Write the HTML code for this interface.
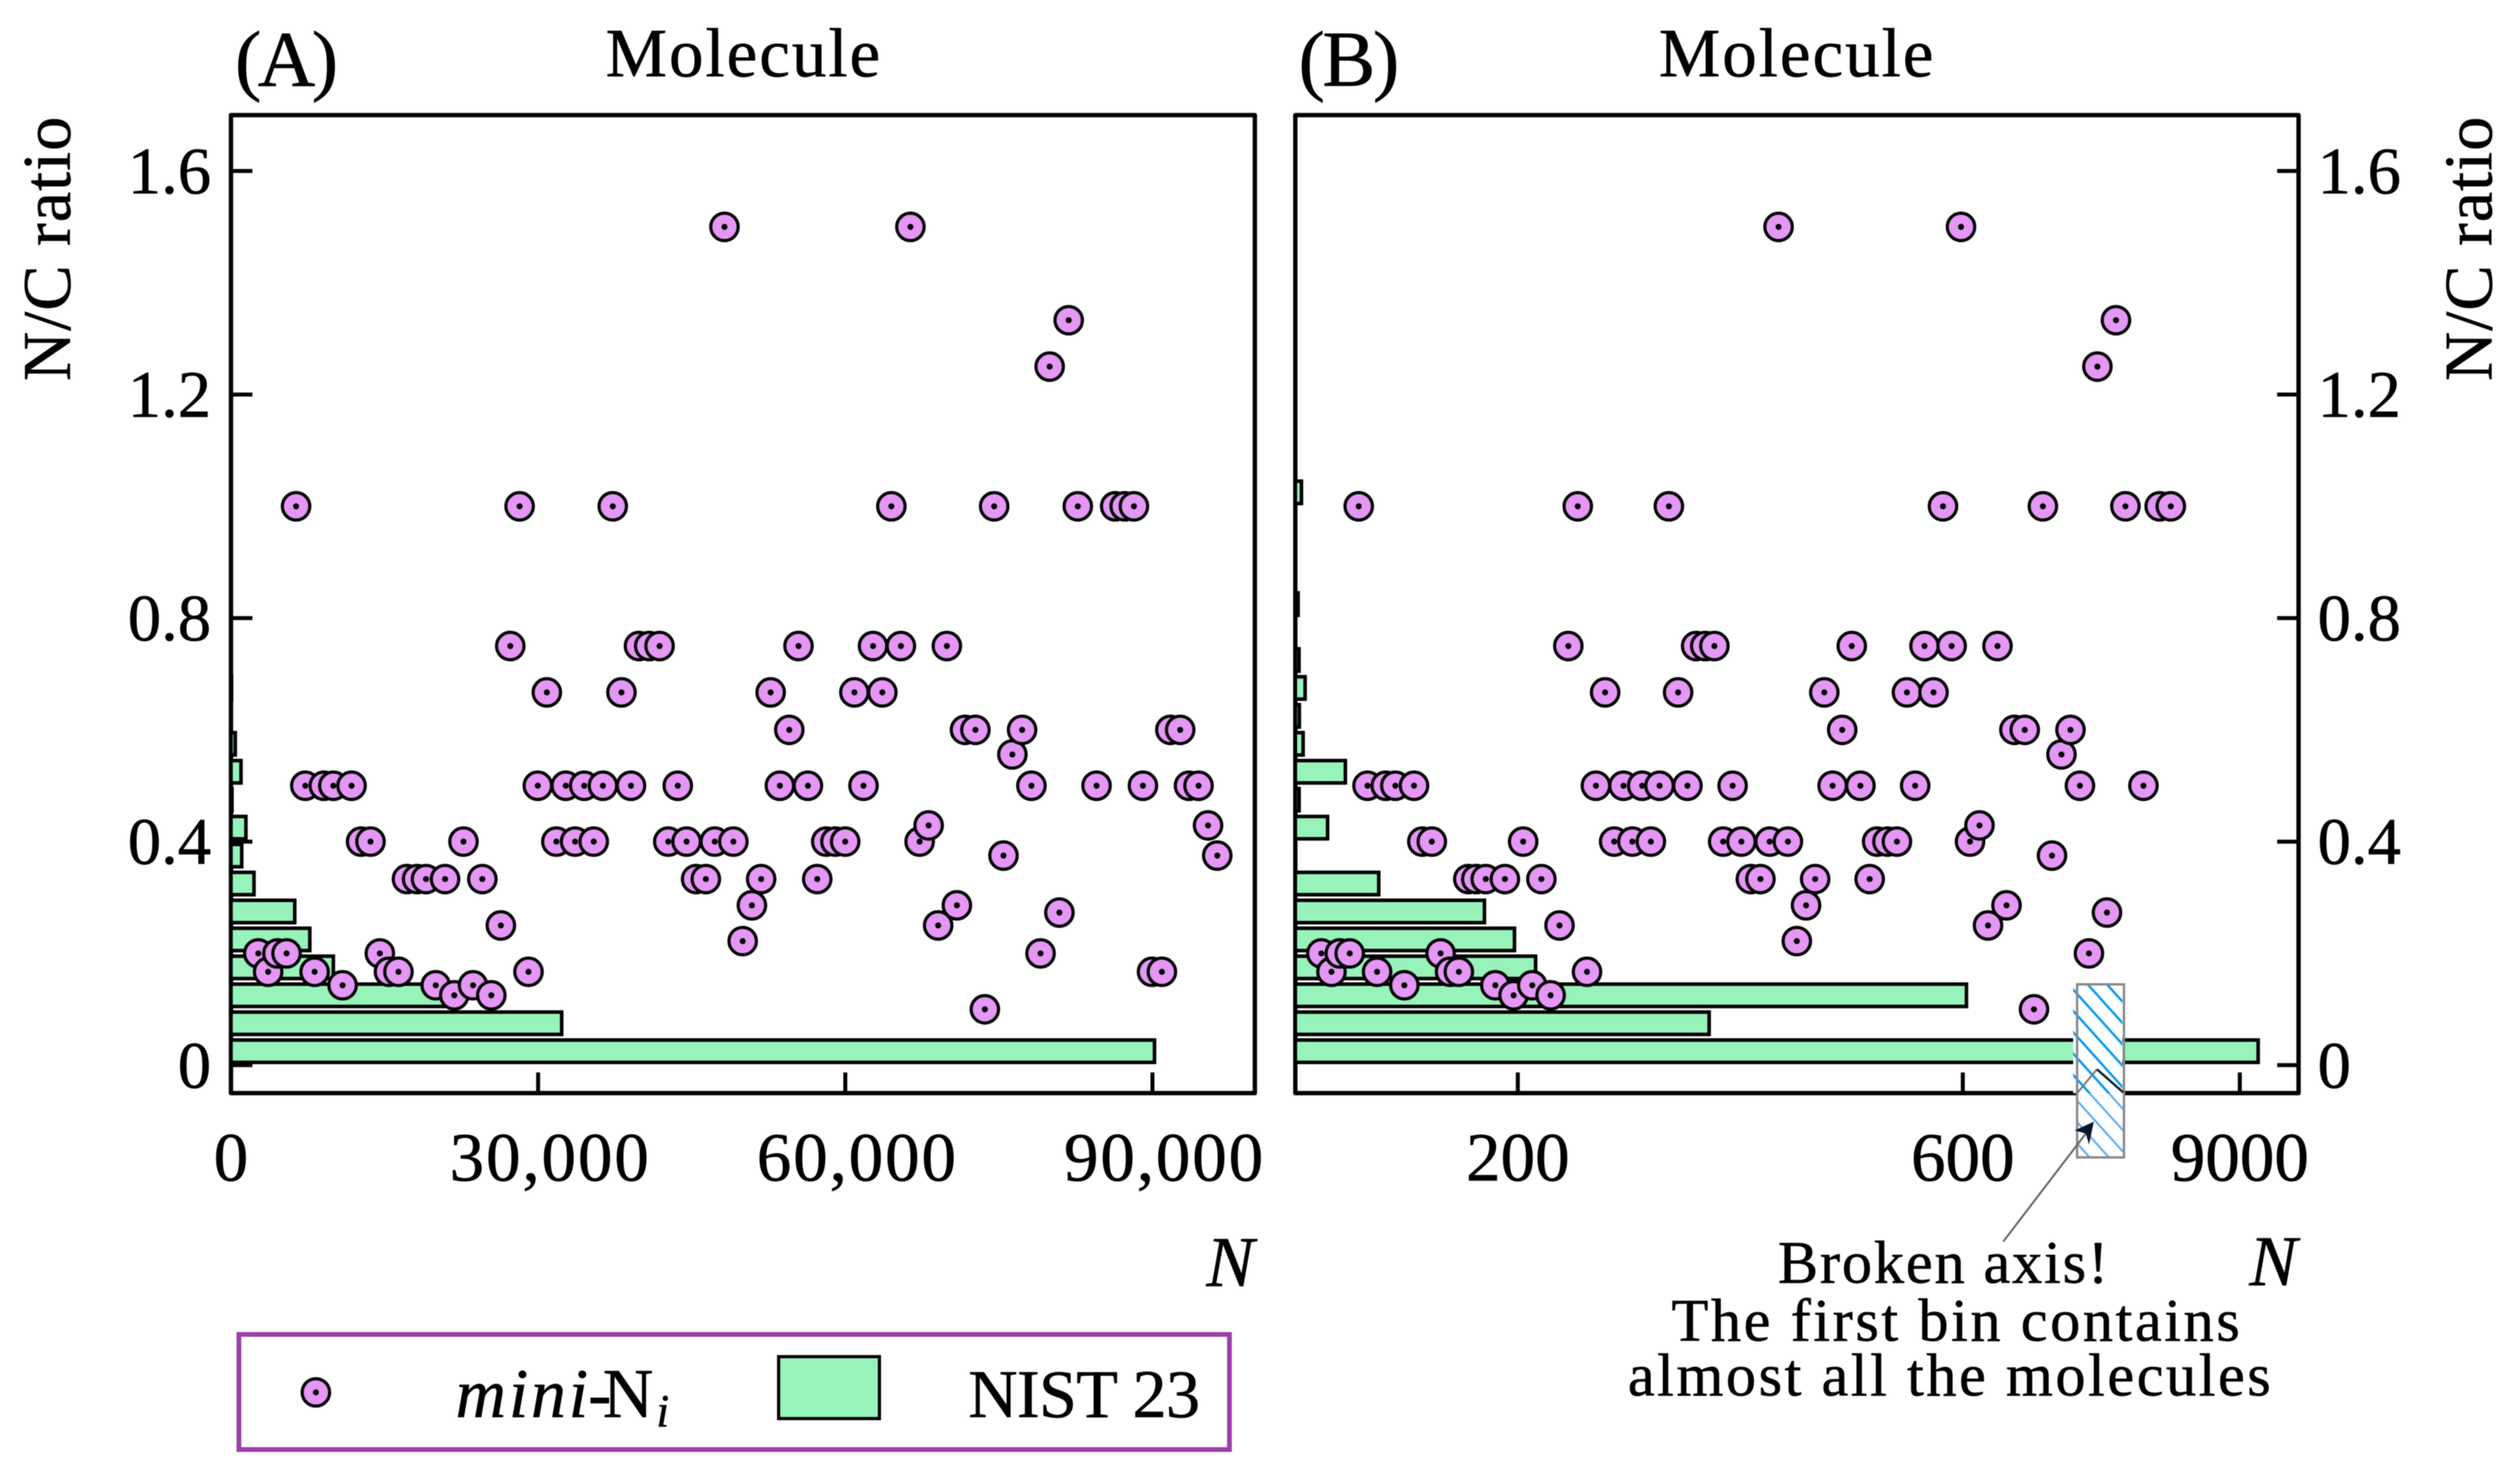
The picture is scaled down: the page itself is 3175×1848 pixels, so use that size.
<!DOCTYPE html>
<html lang="en">
<head>
<meta charset="utf-8">
<title>N/C ratio of molecules: mini-Ni versus NIST 23</title>
<style>
  html, body { margin: 0; padding: 0; background: #fff; }
  svg { display: block; filter: blur(0.6px); }
  text { font-family: "Liberation Serif", serif; fill: #000; stroke: #000; stroke-width: 0.7px; }
</style>
</head>
<body>
<svg id="chart" xmlns="http://www.w3.org/2000/svg" width="3175" height="1848" viewBox="0 0 3175 1848">
  <defs>
    <pattern id="hatch-strong" patternUnits="userSpaceOnUse" width="18" height="18" patternTransform="rotate(48)">
      <rect width="18" height="18" fill="#fff"/>
      <line x1="0" y1="9" x2="18" y2="9" stroke="#0a9bf2" stroke-width="3"/>
    </pattern>
    <pattern id="hatch-light" patternUnits="userSpaceOnUse" width="18" height="18" patternTransform="rotate(48)">
      <rect width="18" height="18" fill="#fff"/>
      <line x1="0" y1="9" x2="18" y2="9" stroke="#5cacf2" stroke-width="2.5"/>
    </pattern>
  </defs>
  <rect x="0" y="0" width="3175" height="1848" fill="#fff"/>

  <g id="panel-a"></g>
  <g id="panel-b"></g>

  <text x="296" y="108" font-size="100" textLength="130">(A)</text>
  <text x="763" y="96" font-size="87" textLength="346">Molecule</text>
  <text x="1636" y="108" font-size="100" textLength="127">(B)</text>
  <text x="2090" y="96" font-size="87" textLength="346">Molecule</text>

  <text transform="translate(88 480) rotate(-90)" font-size="86" textLength="333">N/C ratio</text>
  <text transform="translate(3139 480) rotate(-90)" font-size="86" textLength="333">N/C ratio</text>

  <text x="1520" y="1620" font-size="90" font-style="italic" textLength="65">N</text>
  <text x="2834" y="1619" font-size="90" font-style="italic" textLength="65">N</text>

  <g>
    <rect x="2612" y="1240" width="62" height="137" fill="url(#hatch-strong)"/>
    <rect x="2617" y="1377" width="58" height="81" fill="url(#hatch-light)"/>
    <rect x="2617" y="1240" width="59" height="218" fill="none" stroke="#8a8a8a" stroke-width="3"/>
    <polyline points="2617,1377 2642,1347" fill="none" stroke="#777" stroke-width="2.5"/>
    <polyline points="2642,1347 2675,1376" fill="none" stroke="#123" stroke-width="3"/>
    <line x1="2524" y1="1564" x2="2634" y2="1420" stroke="#666" stroke-width="2.5"/>
    <polygon points="2638,1413 2632,1442 2628,1428 2614,1424" fill="#06162a"/>
    <text x="2240" y="1616" font-size="76" textLength="416">Broken axis!</text>
    <text x="2106" y="1689" font-size="76" textLength="716">The first bin contains</text>
    <text x="2051" y="1758" font-size="76" textLength="810">almost all the molecules</text>
  </g>

  <g>
    <rect x="301" y="1681" width="1248" height="145" fill="#fff" stroke="#9b3fa8" stroke-width="6"/>
    <circle cx="398" cy="1754" r="17.3" fill="#e597f5" stroke="#000" stroke-width="4"/>
    <circle cx="398" cy="1754" r="3.8" fill="#000"/>
    <text x="574" y="1785" font-size="88" font-style="italic" textLength="167">mini</text>
    <text x="741" y="1785" font-size="88" textLength="82">-N</text>
    <text x="827" y="1797" font-size="58" font-style="italic" textLength="17">i</text>
    <rect x="981" y="1709" width="127" height="78" fill="#98f3bb" stroke="#000" stroke-width="4"/>
    <text x="1220" y="1785" font-size="86" textLength="292">NIST 23</text>
  </g>
</svg>
<script>
// ---------- shared chart data ----------
const ratioLevels = [1.5, 1.333, 1.25, 1.0, 0.75, 0.667, 0.6, 0.556, 0.5, 0.429, 0.4, 0.375, 0.333, 0.286, 0.273, 0.25, 0.222, 0.2, 0.167, 0.143, 0.125, 0.1];

// Molecule size N at each ratio level, panel A (same order as ratioLevels)
const moleculeNA = [
  [48200, 66360],
  [81820],
  [79960],
  [6360, 28190, 37290, 64500, 74540, 82710, 86360, 87290, 88190],
  [27280, 39850, 40850, 41860, 55430, 62710, 65430, 69920],
  [30850, 38140, 52710, 60890, 63620],
  [54530, 71690, 72710, 77270, 91750, 92710],
  [76320],
  [7260, 9070, 10000, 11780, 29970, 32700, 34500, 36330, 39070, 43640, 53610, 56350, 61780, 78180, 84540, 89070, 93570, 94500],
  [68140, 95430],
  [12710, 13630, 22710, 31780, 33610, 35430, 42710, 44500, 47250, 49070, 58140, 59040, 59990, 67260],
  [75450, 96330],
  [17190, 18180, 19050, 20910, 24550, 45430, 46380, 51780, 57260],
  [50880, 70900],
  [80910],
  [26360, 69070],
  [49980],
  [2670, 4540, 5430, 14540, 79070],
  [3630, 8170, 15430, 16360, 29060, 89960, 90920],
  [10900, 20000, 23640],
  [21810, 25430],
  [73630]
];

// Molecule size N at each ratio level, panel B (broken axis, same order as ratioLevels)
const moleculeNB = [
  [434.4, 598.4],
  [737.7],
  [721],
  [57, 253.9, 335.8, 582.2, 672, 746.2, 777, 787],
  [245.4, 360.3, 368.5, 376.7, 500.2, 565.6, 590, 631.2],
  [278.5, 344.1, 475.5, 549.8, 573.7],
  [491.6, 646.4, 655.7, 696.8],
  [688.7],
  [64.9, 81.3, 89.9, 106.7, 270.2, 295, 311.8, 327.4, 352.5, 393.1, 483, 508, 557.2, 705.3, 762.4],
  [615],
  [114.2, 122.7, 204.8, 286.6, 303, 319.6, 384.6, 401, 426.4, 442.8, 523, 532.3, 540.8, 606.5],
  [680.2],
  [155.5, 162.7, 171.2, 188.4, 221.2, 409.5, 418.1, 467.3, 516.3],
  [459.1, 639.3],
  [729.6],
  [237.5, 622.7],
  [450.8],
  [23.4, 40, 48.9, 130.6, 713.4],
  [32.5, 73.5, 139.1, 147, 262.2],
  [98, 179.8, 213],
  [196.2, 229.5],
  [664]
];

// NIST 23 histogram: one count per 0.05-wide N/C bin, starting at 0
const nistCountsA = [90200, 32300, 22100, 10000, 7700, 6230, 2250, 1050, 1460, 100, 980, 420, 0, 60];
const nistCountsB = [9165, 372, 603.3, 216, 197, 170, 75, 0, 29, 3.4, 45, 7, 3.6, 8.8, 3.3, 0, 2.5, 0, 0, 0, 5.5];

const ratioTicks = [0, 0.4, 0.8, 1.2, 1.6];
const ratioTickLabels = ['0', '0.4', '0.8', '1.2', '1.6'];
const xTicksA = [0, 30000, 60000, 90000];
const xTickLabelsA = ['0', '30,000', '60,000', '90,000'];
const xTicksB = [200, 600, 9000];
const xTickLabelsB = ['200', '600', '9000'];

// ---------- axis functions ----------
const binWidth = 0.05;
const plotTop = 145, plotBottom = 1377;
const ratioMin = -0.05, ratioMax = 1.7;
function yScale(v) {
  return plotBottom - (v - ratioMin) / (ratioMax - ratioMin) * (plotBottom - plotTop);
}
const frameA = { left: 291, right: 1581 };
const frameB = { left: 1632, right: 2896 };
function xScaleA(n) {
  return frameA.left + n / 100000 * (frameA.right - frameA.left);
}
function xScaleB(n) {
  // broken axis: linear up to the break, then compressed around the 9000 tick
  if (n <= 800) return frameB.left + n * 1.4016;
  return 2822 + (n - 9000) * 0.14;
}

const SVGNS = 'http://www.w3.org/2000/svg';
function make(parent, tag) {
  const el = document.createElementNS(SVGNS, tag);
  parent.appendChild(el);
  return el;
}

function drawFrame(parent, frame, panelKey) {
  const r = make(parent, 'rect');
  
  
  r.setAttribute('x', frame.left);
  r.setAttribute('y', plotTop);
  r.setAttribute('width', frame.right - frame.left);
  r.setAttribute('height', plotBottom - plotTop);
  r.setAttribute('fill', '#fff');
  r.setAttribute('stroke', '#000');
  r.setAttribute('stroke-width', '5.5');
  r.setAttribute('stroke-linejoin', 'round');
}

function drawYAxis(parent, frame, side) {
  ratioTicks.forEach(function (t, i) {
    const yy = yScale(t);
    const edge = side === 'left' ? frame.left : frame.right;
    const dir = side === 'left' ? 1 : -1;
    const tick = make(parent, 'line');
    
    
    tick.setAttribute('x1', edge);
    tick.setAttribute('x2', edge + dir * 27);
    tick.setAttribute('y1', yy);
    tick.setAttribute('y2', yy);
    tick.setAttribute('stroke', '#000');
    tick.setAttribute('stroke-width', '5');
    const label = make(parent, 'text');
    
    
    label.setAttribute('x', side === 'left' ? 266 : 2920);
    label.setAttribute('y', yy + 28);
    label.setAttribute('font-size', '84');
    label.setAttribute('text-anchor', side === 'left' ? 'end' : 'start');
    label.textContent = ratioTickLabels[i];
  });
}

function drawXAxis(parent, ticks, labels, scale) {
  ticks.forEach(function (t, i) {
    const xx = scale(t);
    if (t !== 0) {
      const tick = make(parent, 'line');
      
      
      tick.setAttribute('x1', xx);
      tick.setAttribute('x2', xx);
      tick.setAttribute('y1', plotBottom);
      tick.setAttribute('y2', plotBottom - 26);
      tick.setAttribute('stroke', '#000');
      tick.setAttribute('stroke-width', '5');
    }
    const hasComma = labels[i].indexOf(',') >= 0;
    const label = make(parent, 'text');
    
    
    label.setAttribute('x', xx + (hasComma ? 14 : 0));
    label.setAttribute('y', 1487);
    label.setAttribute('font-size', '87');
    label.setAttribute('text-anchor', 'middle');
    if (hasComma) label.setAttribute('textLength', '251');
    label.textContent = labels[i];
  });
}

function drawBars(parent, counts, scale, baseX, panelKey) {
  const group = make(parent, 'g');
  
  
  counts.forEach(function (c, k) {
    if (c <= 0) return;
    const top = yScale(k * binWidth + 0.045);
    const bottom = yScale(k * binWidth + 0.005);
    const bar = make(group, 'rect');
    
    
    bar.setAttribute('x', baseX);
    bar.setAttribute('y', top);
    bar.setAttribute('width', Math.max(scale(c) - baseX, 0));
    bar.setAttribute('height', bottom - top);
    bar.setAttribute('fill', '#98f3bb');
    bar.setAttribute('stroke', '#000');
    bar.setAttribute('stroke-width', '4.5');
  });
}

function drawPoints(parent, values, scale, panelKey) {
  const flat = [];
  values.forEach(function (list, i) {
    list.forEach(function (n) {
      flat.push({ n: n, ratio: ratioLevels[i] });
    });
  });
  flat.sort(function (a, b) { return a.n - b.n; });
  const group = make(parent, 'g');
  
  
  flat.forEach(function (p, i) {
    const cx = scale(p.n);
    const cy = yScale(p.ratio);
    const circle = make(group, 'circle');
    
    
    circle.setAttribute('cx', cx);
    circle.setAttribute('cy', cy);
    circle.setAttribute('r', '17.3');
    circle.setAttribute('fill', '#e597f5');
    circle.setAttribute('stroke', '#000');
    circle.setAttribute('stroke-width', '4');
    const dot = make(group, 'circle');
    
    
    dot.setAttribute('cx', cx);
    dot.setAttribute('cy', cy);
    dot.setAttribute('r', '3.8');
    dot.setAttribute('fill', '#000');
  });
}

const panelA = document.getElementById('panel-a');
drawFrame(panelA, frameA, 'panel-a');
drawYAxis(panelA, frameA, 'left');
drawXAxis(panelA, xTicksA, xTickLabelsA, xScaleA);
drawBars(panelA, nistCountsA, xScaleA, frameA.left, 'panel-a');
drawPoints(panelA, moleculeNA, xScaleA, 'panel-a');

const panelB = document.getElementById('panel-b');
drawFrame(panelB, frameB, 'panel-b');
drawYAxis(panelB, frameB, 'right');
drawXAxis(panelB, xTicksB, xTickLabelsB, xScaleB);
drawBars(panelB, nistCountsB, xScaleB, frameB.left, 'panel-b');
drawPoints(panelB, moleculeNB, xScaleB, 'panel-b');
</script>
</body>
</html>
